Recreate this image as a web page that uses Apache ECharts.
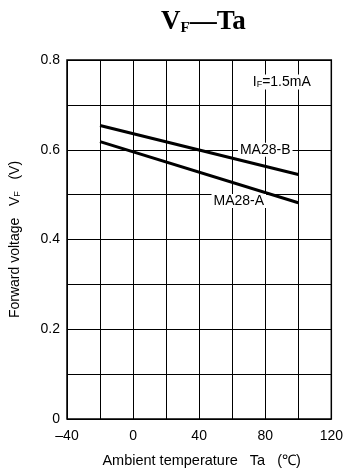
<!DOCTYPE html>
<html><head><meta charset="utf-8">
<script src="https://cdn.jsdelivr.net/npm/echarts@6/dist/echarts.min.js"></script>
<style>html,body{margin:0;padding:0;background:#fff}#c{width:346px;height:473px}</style>
</head><body><div id="c"></div>
<script>
const tempX = [-20, 100];
const ma28B = [0.654, 0.545];
const ma28A = [0.618, 0.482];
const xTicks = [-40, 0, 40, 80, 120];
const yTicks = [0, 0.2, 0.4, 0.6, 0.8];
const labelB = {text: 'MA28-B', coord: [80, 0.6]};
const labelA = {text: 'MA28-A', coord: [64, 0.486]};
const labelIF = {text: 'I{s|F}=1.5mA', coord: [90, 0.751]};

const font = 'Liberation Sans, Arial, sans-serif';
const chart = echarts.init(document.getElementById('c'));
function lbl(l) {
  return {coord: l.coord, symbol: 'rect', symbolSize: 1, itemStyle: {color: 'rgba(0,0,0,0)'},
    label: {show: true, position: 'inside', formatter: l.text,
    color: '#000', fontFamily: font, fontSize: 14, backgroundColor: '#fff', padding: [0, 2],
    rich: {s: {fontSize: 9, fontFamily: font, verticalAlign: 'bottom', padding: [6, 0, 0, 0]}}}};
}
chart.setOption({
  animation: false,
  title: {text: 'V{s|F}—Ta', left: 156, top: 4,
    textStyle: {fontFamily: 'Liberation Serif, serif', fontWeight: 'bold', fontSize: 27, color: '#000',
      rich: {s: {fontFamily: 'Liberation Serif, serif', fontWeight: 'bold', fontSize: 15, padding: [12, 0, 0, 0]}}}},
  grid: {left: 67, top: 60, right: 14, bottom: 54, show: true, borderColor: '#000', borderWidth: 1.5},
  xAxis: {type: 'value', min: -40, max: 120, interval: 20,
    name: 'Ambient temperature   Ta   (℃)', nameLocation: 'middle', nameGap: 34,
    nameTextStyle: {fontFamily: font, fontSize: 14.5, color: '#000', padding: [0, 0, 0, 5]},
    axisLine: {show: false}, axisTick: {show: false},
    splitLine: {show: true, lineStyle: {color: '#000', width: 1}},
    axisLabel: {fontFamily: font, fontSize: 14, color: '#000', margin: 10,
      formatter: v => xTicks.includes(v) ? (v < 0 ? '–' + Math.abs(v) : String(v)) : ''}},
  yAxis: {type: 'value', min: 0, max: 0.8, interval: 0.1,
    name: 'Forward voltage   V{s|F}   (V)', nameLocation: 'middle', nameGap: 45,
    nameTextStyle: {fontFamily: font, fontSize: 14, color: '#000',
      rich: {s: {fontSize: 9, fontFamily: font, padding: [5, 0, 0, 0]}}},
    axisLine: {show: false}, axisTick: {show: false},
    splitLine: {show: true, lineStyle: {color: '#000', width: 1}},
    axisLabel: {fontFamily: font, fontSize: 14, color: '#000', margin: 7,
      formatter: v => { const r = Math.round(v * 10) / 10; return yTicks.some(t => Math.abs(t - r) < 1e-9) ? (r === 0 ? '0' : r.toFixed(1)) : ''; }}},
  series: [
    {type: 'line', data: tempX.map((x, i) => [x, ma28B[i]]), symbol: 'none',
      lineStyle: {color: '#000', width: 3}, z: 3,
      markPoint: {data: [lbl(labelB), lbl(labelIF)], z: 5}},
    {type: 'line', data: tempX.map((x, i) => [x, ma28A[i]]), symbol: 'none',
      lineStyle: {color: '#000', width: 3}, z: 3,
      markPoint: {data: [lbl(labelA)], z: 5}}
  ]
});
</script></body></html>
